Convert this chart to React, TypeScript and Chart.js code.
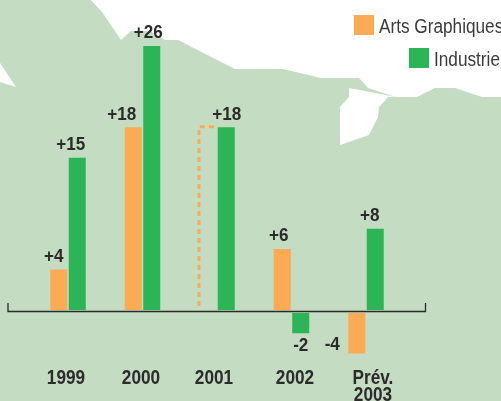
import React, { useEffect, useRef } from "react";
import { Chart, registerables } from "chart.js";

Chart.register(...registerables);

const categories: (string | string[])[] = ["1999", "2000", "2001", "2002", ["Prév.", "2003"]];
const artsGraphiques: (number | null)[] = [4, 18, null, 6, -4];
const industrie: number[] = [15, 26, 18, -2, 8];
const artsPrevious2001 = 18;

const FONT = '"Liberation Sans", sans-serif';
const INK = "#2b2b2b";
const ORANGE = "#fdaa55";
const GREEN = "#2bb556";
const BG = "#c4dcc2";

// purely decorative backdrop outline (canvas pixels)
const backdrop = [[0,0],[91,0],[102,12],[121,40],[131,31],[150,31],[165,40],[178,40],[235,69],[283,69],[321,78],[359,78],[368,88],[396,97],[417,97],[435,88],[455,88],[482,97],[501,97],[501,401],[0,401]];
const holeA = [[349,88],[396,97],[388,97],[379,107],[378,117],[369,135],[340,145],[340,107],[349,97]];
const holeB = [[0,63],[16,87],[0,82]];

// label nudges, matching the hand-placed labels of the picture
const artsShift = [[-5,0],[-11.5,0],[0,0],[-3.5,0],[-24.5,-20.5]];
const indShift = [[-6.5,0],[-3.5,0],[0.5,0],[0,0],[-5.5,0]];
const catShift = [-2,-1.5,-3,3.5,7];

const NEG_GAP = 3;

function poly(ctx: CanvasRenderingContext2D, pts: number[][], fill: string) {
  ctx.fillStyle = fill;
  ctx.beginPath();
  pts.forEach(([x, y], i) => (i ? ctx.lineTo(x, y) : ctx.moveTo(x, y)));
  ctx.closePath();
  ctx.fill();
}

// the reference type is a condensed face: squeeze the installed one to match
function squeezed(ctx: CanvasRenderingContext2D, text: string, x: number, y: number, sx: number) {
  ctx.save();
  ctx.translate(x, y);
  ctx.scale(sx, 1);
  ctx.fillText(text, 0, 0);
  ctx.restore();
}

const artPlugin = {
  id: "art",
  beforeDraw(chart: any) {
    const { ctx, width, height } = chart;
    ctx.save();
    ctx.fillStyle = "#ffffff";
    ctx.fillRect(0, 0, width, height);
    poly(ctx, backdrop, BG);
    poly(ctx, holeA, "#ffffff");
    poly(ctx, holeB, "#ffffff");
    ctx.restore();
  },
  afterDatasetsUpdate(chart: any) {
    // negative bars hang a few pixels below the axis line
    chart.data.datasets.forEach((ds: any, d: number) => {
      chart.getDatasetMeta(d).data.forEach((el: any, i: number) => {
        if (ds.data[i] !== null && ds.data[i] < 0) {
          el.y += NEG_GAP;
          el.base += NEG_GAP;
        }
      });
    });
  },
  afterDatasetsDraw(chart: any) {
    const { ctx, scales } = chart;
    const x = scales.x;
    const y = scales.y;
    const y0 = y.getPixelForValue(0);
    ctx.save();

    // axis line with end ticks
    ctx.strokeStyle = INK;
    ctx.lineWidth = 1.3;
    ctx.beginPath();
    ctx.moveTo(8, y0 - 7);
    ctx.lineTo(8, y0 + 1.5);
    ctx.lineTo(425.5, y0 + 1.5);
    ctx.lineTo(425.5, y0 - 7);
    ctx.stroke();

    // dashed outline of the missing 2001 orange bar
    const xd = x.getPixelForValue(2) - 18;
    const yd = y.getPixelForValue(artsPrevious2001) - 0.5;
    ctx.strokeStyle = ORANGE;
    ctx.lineWidth = 3;
    ctx.setLineDash([5, 4]);
    ctx.beginPath();
    ctx.moveTo(xd, y0 - 4);
    ctx.lineTo(xd, yd);
    ctx.lineTo(xd + 17, yd);
    ctx.stroke();
    ctx.setLineDash([]);

    // value labels
    ctx.fillStyle = INK;
    ctx.textAlign = "center";
    ctx.textBaseline = "middle";
    ctx.font = `bold 19px ${FONT}`;
    const shifts = [artsShift, indShift];
    chart.data.datasets.forEach((ds: any, d: number) => {
      chart.getDatasetMeta(d).data.forEach((el: any, i: number) => {
        const v = ds.data[i];
        if (v === null) return;
        const [sx, sy] = shifts[d][i];
        const text = v > 0 ? `+${v}` : `${v}`;
        const ty = v > 0 ? el.y - 13 : el.y + 12;
        squeezed(ctx, text, el.x + sx, ty + sy, 0.9);
      });
    });

    // category labels
    ctx.font = `bold 20px ${FONT}`;
    categories.forEach((c, i) => {
      const lines = Array.isArray(c) ? c : [c];
      lines.forEach((t, l) => {
        squeezed(ctx, t, x.getPixelForValue(i) + catShift[i], 378 + l * 17, 0.86);
      });
    });

    // legend, built from the datasets and right-aligned in two rows
    const rows = [
      { left: 354, top: 15 },
      { left: 409, top: 48 },
    ];
    ctx.textAlign = "left";
    ctx.font = `20px ${FONT}`;
    chart.data.datasets.forEach((ds: any, d: number) => {
      const r = rows[d];
      ctx.fillStyle = ds.backgroundColor;
      ctx.fillRect(r.left, r.top, 20, 20);
      ctx.fillStyle = "#3a3a3a";
      squeezed(ctx, ds.label, r.left + 25, r.top + 12, 0.86);
    });
    ctx.restore();
  },
};

export default function App() {
  const ref = useRef<HTMLCanvasElement>(null);
  useEffect(() => {
    document.body.style.margin = "0";
    const chart = new Chart(ref.current!, {
      type: "bar",
      data: {
        labels: categories as any,
        datasets: [
          { label: "Arts Graphiques", data: artsGraphiques, backgroundColor: ORANGE, categoryPercentage: 0.4966, barPercentage: 0.92 },
          { label: "Industrie", data: industrie, backgroundColor: GREEN, categoryPercentage: 0.4966, barPercentage: 0.92 },
        ],
      },
      options: {
        responsive: false,
        animation: false,
        layout: { padding: { left: 30.75, right: 97.75, top: 5.5, bottom: 30.1 } },
        plugins: { legend: { display: false }, tooltip: { enabled: false } },
        scales: {
          x: { display: false },
          y: { display: false, min: -6, max: 30 },
        },
      },
      plugins: [artPlugin],
    } as any);
    return () => chart.destroy();
  }, []);
  return <canvas ref={ref} width={501} height={401} style={{ display: "block" }} />;
}
